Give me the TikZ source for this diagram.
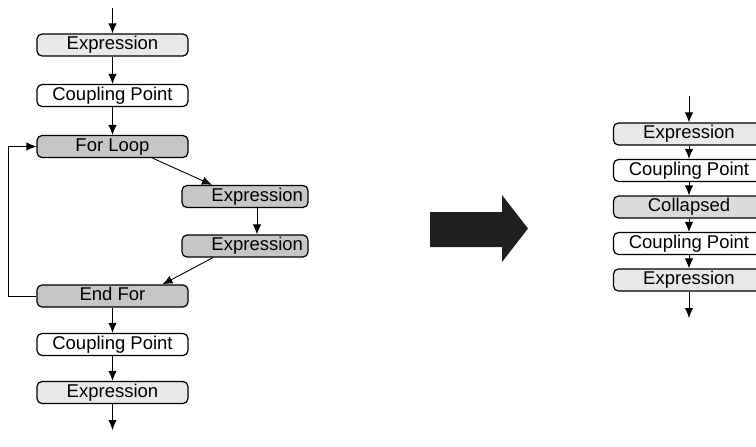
\documentclass[tikz,border=0pt]{standalone}
\usepackage{fontspec}
\setmainfont{Liberation Sans}
\usetikzlibrary{arrows.meta}

\begin{document}
\begin{tikzpicture}
[
    x=1pt, y=-1pt,
    flow/.style={draw, line width=1.2pt, rounded corners=5pt, minimum width=151pt, minimum height=22pt, inner sep=0pt, text height=13pt, text depth=3.5pt, font=\fontsize{18.5}{21}\selectfont},
    plain/.style={flow, fill=white},
    light/.style={flow, fill=gray!18},
    dark/.style={flow, fill=gray!45},
    inner/.style={dark, minimum width=0pt, text width=116pt, inner xsep=5pt, align=right},
    link/.style={-{Latex[length=10pt, width=8.5pt]}, line width=0.9pt}
]
    \useasboundingbox (0, 0) rectangle (756, 447);

    % before
    \begin{scope}
        \node [light] (expa) at (112.5, 45) {Expression};
        \node [plain] (cpa) at (112.5, 95.5) {Coupling Point};
        \node [dark] (forloop) at (112.5, 146.5) {For Loop};
        \node [inner] (expb) at (245, 196.5) {Expression};
        \node [inner] (expc) at (245, 246) {Expression};
        \node [dark] (endfor) at (112.5, 296) {End For};
        \node [plain] (cpb) at (112.5, 344.5) {Coupling Point};
        \node [light] (expd) at (112.5, 392.5) {Expression};
        \coordinate (ina) at (112.5, 8);
        \coordinate (outa) at (112.5, 430);

        \draw [link] (ina) -- (expa);
        \draw [link] (expa) -- (cpa);
        \draw [link] (cpa) -- (forloop);
        \draw [link] ([xshift=40pt]forloop.south) -- ([xshift=-33pt]expb.north);
        \draw [link] ([xshift=12pt]expb.south) -- ([xshift=12pt]expc.north);
        \draw [link] ([xshift=-32pt]expc.south) -- ([xshift=50pt]endfor.north);
        \draw [link] (endfor) -- (cpb);
        \draw [link] (cpb) -- (expd);
        \draw [link] (expd) -- (outa);
        \draw [link] (endfor.west) -- ++(-28, 0) |- (forloop.west);
    \end{scope}

    % big arrow
    \fill [black!88] (430, 212) -- (502, 212) -- (502, 195) -- (528, 228.5)
        -- (502, 262) -- (502, 247) -- (430, 247) -- cycle;

    % after
    \begin{scope}
        \node [light] (expe) at (689, 134) {Expression};
        \node [plain] (cpc) at (689, 170.5) {Coupling Point};
        \node [flow, fill=gray!28] (collapsed) at (689, 207) {Collapsed};
        \node [plain] (cpd) at (689, 243.5) {Coupling Point};
        \node [light] (expf) at (689, 280) {Expression};
        \coordinate (inb) at (689, 96);
        \coordinate (outb) at (689, 318);

        \draw [link] (inb) -- (expe);
        \draw [link] (expe) -- (cpc);
        \draw [link] (cpc) -- (collapsed);
        \draw [link] (collapsed) -- (cpd);
        \draw [link] (cpd) -- (expf);
        \draw [link] (expf) -- (outb);
    \end{scope}
\end{tikzpicture}
\end{document}
